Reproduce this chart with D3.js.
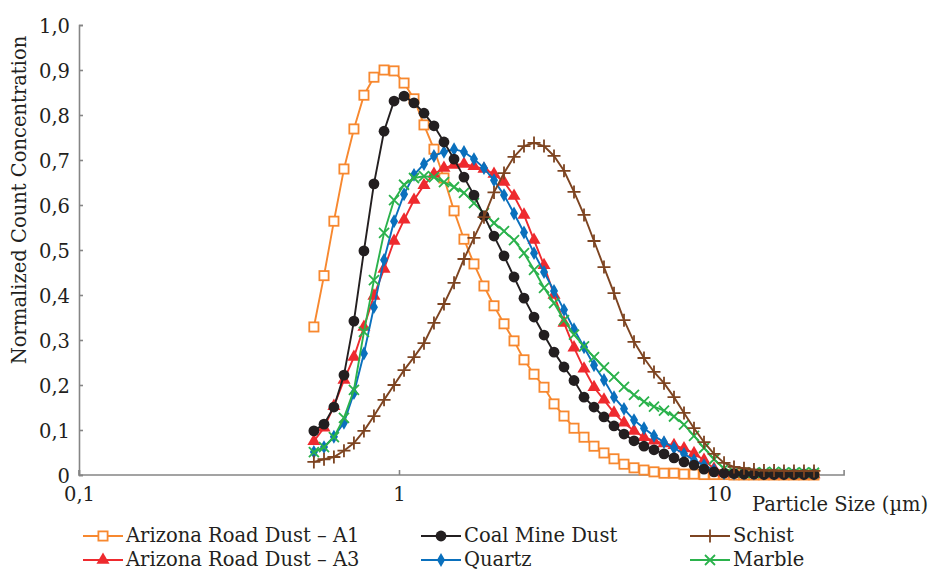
<!DOCTYPE html>
<html>
<head>
<meta charset="utf-8">
<script src="https://cdn.jsdelivr.net/npm/d3@7"></script>
<style>
  html, body { margin: 0; padding: 0; background: #fff; }
  svg { display: block; }
  text { font-family: "DejaVu Serif", "Liberation Serif", serif; fill: #231f20; }
</style>
</head>
<body>
<svg id="chart" width="931" height="572"></svg>
<script>
// Particle size channels (µm)
const sizes = [0.542, 0.583, 0.626, 0.673, 0.723, 0.777, 0.835, 0.898, 0.965, 1.037,
  1.114, 1.197, 1.286, 1.382, 1.486, 1.596, 1.715, 1.843, 1.981, 2.129,
  2.288, 2.458, 2.642, 2.839, 3.051, 3.278, 3.523, 3.786, 4.068, 4.371,
  4.698, 5.048, 5.425, 5.829, 6.264, 6.732, 7.234, 7.774, 8.354, 8.977,
  9.647, 10.37, 11.14, 11.97, 12.86, 13.82, 14.86, 15.96, 17.15, 18.43, 19.81];

// Normalized count concentration per dust type
const arizonaA1 = [0.329, 0.443, 0.564, 0.680, 0.769, 0.844, 0.884, 0.900, 0.898, 0.871,
  0.836, 0.778, 0.724, 0.660, 0.587, 0.524, 0.469, 0.420, 0.376, 0.336,
  0.298, 0.256, 0.224, 0.195, 0.158, 0.131, 0.104, 0.084, 0.064, 0.049,
  0.036, 0.024, 0.016, 0.011, 0.007, 0.004, 0.004, 0.002, 0.002, 0.001,
  0.001, 0.001, 0, 0, 0, 0, 0, 0, 0, 0, 0];
const coalMine = [0.098, 0.113, 0.151, 0.222, 0.342, 0.498, 0.647, 0.764, 0.831, 0.842,
  0.827, 0.804, 0.776, 0.740, 0.702, 0.662, 0.622, 0.576, 0.531, 0.487,
  0.440, 0.393, 0.351, 0.311, 0.273, 0.240, 0.210, 0.173, 0.151, 0.129,
  0.109, 0.091, 0.076, 0.064, 0.056, 0.047, 0.038, 0.029, 0.022, 0.013,
  0.007, 0.004, 0.003, 0.002, 0.002, 0.001, 0.001, 0.001, 0.001, 0.001, 0.001];
const schist = [0.029, 0.035, 0.040, 0.054, 0.071, 0.098, 0.131, 0.167, 0.200, 0.233,
  0.262, 0.293, 0.338, 0.380, 0.427, 0.480, 0.527, 0.573, 0.628, 0.671,
  0.707, 0.731, 0.738, 0.731, 0.709, 0.676, 0.629, 0.578, 0.520, 0.462,
  0.404, 0.344, 0.296, 0.260, 0.229, 0.204, 0.173, 0.138, 0.104, 0.073,
  0.047, 0.027, 0.018, 0.015, 0.012, 0.010, 0.010, 0.009, 0.009, 0.009, 0.009];
const arizonaA3 = [0.075, 0.105, 0.153, 0.211, 0.262, 0.329, 0.398, 0.458, 0.520, 0.567,
  0.611, 0.644, 0.669, 0.682, 0.689, 0.691, 0.686, 0.680, 0.669, 0.651,
  0.620, 0.578, 0.522, 0.466, 0.400, 0.338, 0.283, 0.236, 0.195, 0.167,
  0.138, 0.116, 0.098, 0.084, 0.076, 0.070, 0.066, 0.059, 0.048, 0.033,
  0.014, 0.005, 0.003, 0.002, 0.002, 0.001, 0.001, 0.001, 0.001, 0.001, 0.001];
const quartz = [0.051, 0.062, 0.085, 0.116, 0.182, 0.270, 0.373, 0.478, 0.564, 0.624,
  0.667, 0.691, 0.709, 0.718, 0.724, 0.718, 0.702, 0.682, 0.655, 0.622,
  0.581, 0.539, 0.493, 0.451, 0.409, 0.367, 0.324, 0.284, 0.244, 0.211,
  0.173, 0.147, 0.122, 0.104, 0.087, 0.073, 0.060, 0.047, 0.033, 0.022,
  0.011, 0.004, 0.003, 0.003, 0.003, 0.003, 0.003, 0.003, 0.003, 0.003, 0.003];
const marble = [0.051, 0.062, 0.084, 0.127, 0.189, 0.318, 0.433, 0.538, 0.611, 0.645,
  0.660, 0.664, 0.662, 0.651, 0.640, 0.627, 0.604, 0.582, 0.560, 0.542,
  0.522, 0.493, 0.456, 0.416, 0.382, 0.344, 0.312, 0.286, 0.262, 0.239,
  0.218, 0.196, 0.178, 0.163, 0.152, 0.143, 0.130, 0.112, 0.087, 0.060,
  0.035, 0.014, 0.007, 0.006, 0.005, 0.006, 0.007, 0.006, 0.005, 0.006, 0.005];

const seriesNames = ["Arizona Road Dust \u2013 A1", "Coal Mine Dust", "Schist",
  "Arizona Road Dust \u2013 A3", "Quartz", "Marble"];

const xTickValues = [0.1, 1, 10];
const xTickLabels = ["0,1", "1", "10"];
const yTickValues = [0, 0.1, 0.2, 0.3, 0.4, 0.5, 0.6, 0.7, 0.8, 0.9, 1.0];
const yTickLabels = ["0", "0,1", "0,2", "0,3", "0,4", "0,5", "0,6", "0,7", "0,8", "0,9", "1,0"];

// Series styling
const series = [
  { name: seriesNames[0], values: arizonaA1, color: "#f7882f", marker: "square" },
  { name: seriesNames[1], values: coalMine,  color: "#231f20", marker: "circle" },
  { name: seriesNames[2], values: schist,    color: "#7d4421", marker: "plus" },
  { name: seriesNames[3], values: arizonaA3, color: "#ee2a2e", marker: "triangle" },
  { name: seriesNames[4], values: quartz,    color: "#0a70bd", marker: "diamond" },
  { name: seriesNames[5], values: marble,    color: "#2bb24c", marker: "cross" }
];
// Drawing order (back to front)
const drawOrder = [0, 3, 4, 5, 1, 2];

const svg = d3.select("#chart");

const plotLeft = 79, plotBottom = 475, plotTop = 25;
const fontSize = 19.5;
const x = d3.scaleLog().domain([0.1, 10]).range([plotLeft, 719]);
const xEnd = x(24.6);
const y = d3.scaleLinear().domain([0, 1]).range([plotBottom, plotTop]);

// Axes
const axisColor = "#858585";
const xAxis = d3.axisBottom(x)
  .tickValues(xTickValues)
  .tickFormat((d, i) => xTickLabels[i])
  .tickSize(-5).tickSizeOuter(-5).tickPadding(12);
const gx = svg.append("g")
  .attr("transform", `translate(0,${plotBottom})`)
  .call(xAxis);
// extend the domain path to the end of the axis
gx.select(".domain").attr("d", `M${plotLeft},-5V0H${xEnd}V-5`);

const yAxis = d3.axisLeft(y)
  .tickValues(yTickValues)
  .tickFormat((d, i) => yTickLabels[i])
  .tickSize(-4).tickSizeOuter(-4).tickPadding(9);
const gy = svg.append("g")
  .attr("transform", `translate(${plotLeft},0)`)
  .call(yAxis);

[gx, gy].forEach(g => {
  g.select(".domain").attr("stroke", axisColor).attr("stroke-width", 1.6).attr("fill", "none");
  g.selectAll(".tick line").attr("stroke", axisColor).attr("stroke-width", 1.6);
  g.selectAll(".tick text").attr("font-family", "DejaVu Serif, serif")
    .attr("font-size", fontSize).attr("fill", "#231f20");
});
gy.selectAll(".tick text").attr("dy", "0.36em");

// Axis titles
svg.append("text")
  .attr("transform", `translate(26,200) rotate(-90)`)
  .attr("text-anchor", "middle")
  .attr("font-size", fontSize)
  .text("Normalized Count Concentration");

svg.append("text")
  .attr("x", 752).attr("y", 511)
  .attr("font-size", fontSize)
  .text("Particle Size (\u00b5m)");

// Marker drawing
function drawMarker(g, type, color) {
  switch (type) {
    case "square":
      g.append("rect").attr("x", -4.6).attr("y", -4.6).attr("width", 9.2).attr("height", 9.2)
        .attr("fill", "#fff").attr("stroke", color).attr("stroke-width", 1.8);
      break;
    case "circle":
      g.append("circle").attr("r", 5.4).attr("fill", color);
      break;
    case "triangle":
      g.append("path").attr("d", d3.symbol(d3.symbolTriangle, 74)()).attr("fill", color);
      break;
    case "diamond":
      g.append("path").attr("d", d3.symbol(d3.symbolDiamond, 56)()).attr("fill", color);
      break;
    case "cross":
      g.append("path").attr("d", "M-5,-5L5,5M-5,5L5,-5")
        .attr("stroke", color).attr("stroke-width", 1.8).attr("fill", "none");
      break;
    case "plus":
      g.append("path").attr("d", "M-6.5,0H6.5M0,-6.5V6.5")
        .attr("stroke", color).attr("stroke-width", 1.8).attr("fill", "none");
      break;
  }
}

const line = d3.line()
  .x((d, i) => x(sizes[i]))
  .y(d => y(d));

const plot = svg.append("g");
drawOrder.forEach(idx => {
  const s = series[idx];
  const g = plot.append("g");
  g.append("path")
    .attr("d", line(s.values))
    .attr("fill", "none")
    .attr("stroke", s.color)
    .attr("stroke-width", 1.9);
  s.values.forEach((v, i) => {
    const m = g.append("g").attr("transform", `translate(${x(sizes[i])},${y(v)})`);
    drawMarker(m, s.marker, s.color);
  });
});

// Legend
const legendCols = [83, 421, 690];
const legendRows = [536, 560];
series.forEach((s, i) => {
  const lx = legendCols[i % 3], ly = legendRows[Math.floor(i / 3)];
  const g = svg.append("g").attr("transform", `translate(${lx},${ly})`);
  g.append("line").attr("x1", 0).attr("x2", 40).attr("y1", 0).attr("y2", 0)
    .attr("stroke", s.color).attr("stroke-width", 1.9);
  const m = g.append("g").attr("transform", "translate(20,0)");
  drawMarker(m, s.marker, s.color);
  g.append("text").attr("x", 43).attr("y", 0).attr("dy", "0.33em")
    .attr("font-size", fontSize).text(s.name);
});
</script>
</body>
</html>
